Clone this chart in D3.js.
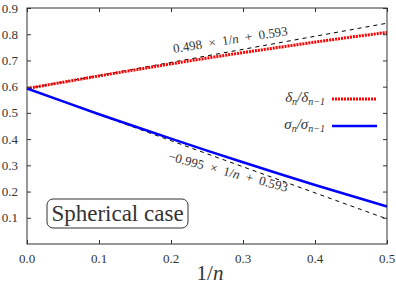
<!DOCTYPE html>
<html>
<head>
<meta charset="utf-8">
<script src="https://cdn.jsdelivr.net/npm/d3@7"></script>
</head>
<body style="margin:0">
<script>
// values
var invN = [0, 0.05, 0.1, 0.15, 0.2, 0.25, 0.3, 0.35, 0.4, 0.45, 0.5];
var deltaRatio = [0.593, 0.617, 0.641, 0.664, 0.687, 0.709, 0.730, 0.750, 0.770, 0.789, 0.807];
var sigmaRatio = [0.593, 0.544, 0.495, 0.448, 0.402, 0.356, 0.312, 0.268, 0.225, 0.184, 0.143];
var fitDelta = [0.498, 0.593];   // slope, intercept
var fitSigma = [-0.995, 0.593];
var xTicks = [0, 0.1, 0.2, 0.3, 0.4, 0.5];
var yTicks = [0.1, 0.2, 0.3, 0.4, 0.5, 0.6, 0.7, 0.8, 0.9];

var W = 396, H = 285;
var m = {left: 27, right: 9, top: 8, bottom: 41};

var svg = d3.select("body").append("svg")
    .attr("width", W)
    .attr("height", H)
    .attr("font-family", "serif");

// every label goes through here so the serif face is set first
function label(size) {
  return svg.append("text")
    .attr("font-family", "serif")
    .style("font-family", "serif")
    .style("font-size", size + "px")
    .style("fill", "#333");
}

var x = d3.scaleLinear().domain([0, 0.5]).range([m.left, W - m.right]);
var y = d3.scaleLinear().domain([0, 0.9]).range([H - m.bottom, m.top]);

var line = d3.line()
    .x(function(d) { return x(d[0]); })
    .y(function(d) { return y(d[1]); });

// fitted dashed lines
[fitDelta, fitSigma].forEach(function(f) {
  svg.append("path")
    .attr("d", line([[0, f[1]], [0.5, f[0] * 0.5 + f[1]]]))
    .attr("fill", "none")
    .attr("stroke", "#000")
    .attr("stroke-width", 1)
    .attr("stroke-dasharray", "4,4");
});

svg.append("path")
  .attr("d", line(invN.map(function(v, i) { return [v, deltaRatio[i]]; })))
  .attr("fill", "none")
  .attr("stroke", "#ff0000")
  .attr("stroke-width", 3)
  .attr("stroke-dasharray", "2,1");

svg.append("path")
  .attr("d", line(invN.map(function(v, i) { return [v, sigmaRatio[i]]; })))
  .attr("fill", "none")
  .attr("stroke", "#0000ff")
  .attr("stroke-width", 2.5);

// frame and ticks (inward on all four sides)
svg.append("rect")
  .attr("x", x(0)).attr("y", y(0.9))
  .attr("width", x(0.5) - x(0)).attr("height", y(0) - y(0.9))
  .attr("fill", "none").attr("stroke", "#333").attr("stroke-width", 1);

svg.append("g").attr("transform", "translate(0," + y(0) + ")")
  .call(d3.axisBottom(x).tickValues(xTicks).tickSizeInner(-4).tickSizeOuter(0).tickFormat(""));
svg.append("g").attr("transform", "translate(0," + y(0.9) + ")")
  .call(d3.axisTop(x).tickValues(xTicks).tickSizeInner(-4).tickSizeOuter(0).tickFormat(""));
svg.append("g").attr("transform", "translate(" + x(0) + ",0)")
  .call(d3.axisLeft(y).tickValues(yTicks).tickSizeInner(-4).tickSizeOuter(0).tickFormat(""));
svg.append("g").attr("transform", "translate(" + x(0.5) + ",0)")
  .call(d3.axisRight(y).tickValues(yTicks).tickSizeInner(-4).tickSizeOuter(0).tickFormat(""));
svg.selectAll(".domain").remove();
svg.selectAll(".tick text").remove();
svg.selectAll("g").attr("font-family", null).attr("font-size", null);
svg.selectAll(".tick line").attr("stroke", "#333");

// tick labels from the same scales
var fmt = d3.format(".1f");
xTicks.forEach(function(v) {
  label(13).attr("x", x(v)).attr("y", 263).attr("text-anchor", "middle").text(fmt(v));
});
yTicks.forEach(function(v) {
  label(13).attr("x", 18).attr("y", y(v) + 4.5).attr("text-anchor", "end").text(fmt(v));
});

// x label
var xl = label(21).attr("x", 210).attr("y", 280).attr("text-anchor", "middle");
xl.append("tspan").text("1/");
xl.append("tspan").style("font-style", "italic").text("n");

// fit annotations
var sp = "\u2002";
var t1 = label(13).attr("transform", "translate(231,44) rotate(-9)").attr("text-anchor", "middle");
t1.append("tspan").text("0.498" + sp + "×" + sp + "1/");
t1.append("tspan").style("font-style", "italic").text("n");
t1.append("tspan").text(sp + "+" + sp + "0.593");

var t2 = label(13).attr("transform", "translate(227,176) rotate(15)").attr("text-anchor", "middle");
t2.append("tspan").text("−0.995" + sp + "×" + sp + "1/");
t2.append("tspan").style("font-style", "italic").text("n");
t2.append("tspan").text(sp + "+" + sp + "0.593");

// legend
function ratioLabel(sym, yy) {
  var t = label(15).attr("x", 325).attr("y", yy + 3)
    .attr("text-anchor", "end")
    .style("font-style", "italic");
  t.append("tspan").text(sym);
  t.append("tspan").style("font-size", "10px").attr("dy", 3).text("n");
  t.append("tspan").attr("dy", -3).text("/" + sym);
  t.append("tspan").style("font-size", "10px").attr("dy", 3).text("n−1");
}
ratioLabel("δ", 99);
ratioLabel("σ", 126);
svg.append("line").attr("x1", 332).attr("x2", 377).attr("y1", 99).attr("y2", 99)
  .attr("stroke", "#ff0000").attr("stroke-width", 3).attr("stroke-dasharray", "2,1");
svg.append("line").attr("x1", 332).attr("x2", 377).attr("y1", 126).attr("y2", 126)
  .attr("stroke", "#0000ff").attr("stroke-width", 2.5);

// boxed label
svg.append("rect")
  .attr("x", 47).attr("y", 199).attr("width", 141).attr("height", 29)
  .attr("rx", 6).attr("ry", 6)
  .attr("fill", "#fff").attr("stroke", "#333").attr("stroke-width", 1);
label(23).attr("x", 117.5).attr("y", 221).attr("text-anchor", "middle").text("Spherical case");
</script>
</body>
</html>
